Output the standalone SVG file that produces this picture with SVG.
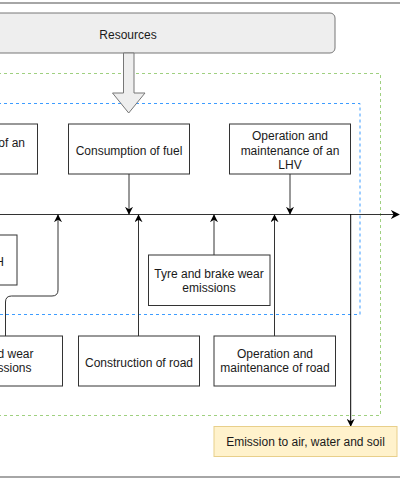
<svg xmlns="http://www.w3.org/2000/svg" width="400" height="481" viewBox="0 0 400 481">
<style>
.box{fill:#ffffff;stroke:#333333;stroke-width:1}
.t{font-family:"Liberation Sans",Arial,sans-serif;font-size:12px;fill:#1a1a1a;text-anchor:middle}
.te{font-family:"Liberation Sans",Arial,sans-serif;font-size:12px;fill:#1a1a1a;text-anchor:end}
.c{fill:none;stroke:#333333;stroke-width:1}
</style>
<defs>
<marker id="ah" viewBox="0 0 10 10" refX="9" refY="5" markerWidth="8" markerHeight="8" markerUnits="userSpaceOnUse" orient="auto">
<path d="M0,0 L10,5 L0,10 L3,5 Z" fill="#000000"/>
</marker>
<marker id="ah2" viewBox="0 0 10 10" refX="9" refY="5" markerWidth="9" markerHeight="9" markerUnits="userSpaceOnUse" orient="auto">
<path d="M0,0 L10,5 L0,10 L3,5 Z" fill="#000000"/>
</marker>
</defs>
<rect width="400" height="481" fill="#ffffff"/>
<line x1="0" y1="3" x2="400" y2="3" stroke="#888888" stroke-width="1.5"/>
<line x1="0" y1="477" x2="400" y2="477" stroke="#888888" stroke-width="1.5"/>

<g id="frames">
<rect x="-20" y="73.5" width="400.5" height="342" fill="none" stroke="#9fd080" stroke-width="1" stroke-dasharray="3 3"/>
<rect x="-20" y="103.5" width="380" height="211" fill="none" stroke="#3d9cff" stroke-width="1" stroke-dasharray="3 3"/>
</g>

<g id="resources">
<rect x="-80" y="13" width="415" height="40" rx="5" fill="#eeeeee" stroke="#777777" stroke-width="1"/>
<text class="t" x="128" y="38.5">Resources</text>
</g>
<g id="resources-arrow">
<path d="M123.5,53 L134,53 L134,93 L145,93 L128.7,113 L112.5,93 L123.5,93 Z" fill="#eeeeee" stroke="#777777" stroke-width="1"/>
</g>

<g id="connectors">
<line class="c" x1="0" y1="214.5" x2="399" y2="214.5" marker-end="url(#ah2)"/>
<line class="c" x1="129" y1="174" x2="129" y2="214" marker-end="url(#ah)"/>
<line class="c" x1="290" y1="174" x2="290" y2="214" marker-end="url(#ah)"/>
<line class="c" x1="138.5" y1="336" x2="138.5" y2="215" marker-end="url(#ah)"/>
<line class="c" x1="274.5" y1="336" x2="274.5" y2="215" marker-end="url(#ah)"/>
<line class="c" x1="214" y1="255" x2="214" y2="215" marker-end="url(#ah)"/>
<path class="c" d="M5.5,336 L5.5,302 Q5.5,296 11.5,296 L52,296 Q58,296 58,290 L58,215" marker-end="url(#ah)"/>
<line x1="350.7" y1="214" x2="350.7" y2="426" stroke="#000000" stroke-width="1" marker-end="url(#ah)"/>
</g>

<g id="production-lhv">
<rect class="box" x="-80" y="124" width="117.5" height="50"/>
<text class="te" x="25" y="147">of an</text>
</g>
<g id="consumption-fuel">
<rect class="box" x="68.5" y="124" width="121" height="50"/>
<text class="t" x="129" y="154.5">Consumption of fuel</text>
</g>
<g id="operation-lhv">
<rect class="box" x="229.5" y="124" width="121" height="50"/>
<text class="t" x="290" y="140">Operation and</text>
<text class="t" x="290" y="155">maintenance of an</text>
<text class="t" x="290" y="169">LHV</text>
</g>
<g id="left-mid">
<rect class="box" x="-80" y="235" width="97" height="50"/>
<text class="te" x="4" y="266">H</text>
</g>
<g id="tyre-brake">
<rect class="box" x="148.5" y="255" width="121.5" height="50.5"/>
<text class="t" x="209" y="278">Tyre and brake wear</text>
<text class="t" x="209" y="292">emissions</text>
</g>
<g id="road-wear">
<rect class="box" x="-60" y="336" width="122.5" height="50"/>
<text class="te" x="33.5" y="358">d wear</text>
<text class="te" x="31.5" y="372">issions</text>
</g>
<g id="construction-road">
<rect class="box" x="78.5" y="336" width="121" height="50"/>
<text class="t" x="139" y="366.5">Construction of road</text>
</g>
<g id="operation-road">
<rect class="box" x="214" y="336" width="121.5" height="50"/>
<text class="t" x="275" y="358">Operation and</text>
<text class="t" x="275" y="372">maintenance of road</text>
</g>
<g id="emission">
<rect x="214" y="426.5" width="183" height="30" fill="#fff2cc" stroke="#e8cf8a" stroke-width="1"/>
<text class="t" x="305.5" y="446">Emission to air, water and soil</text>
</g>
</svg>
